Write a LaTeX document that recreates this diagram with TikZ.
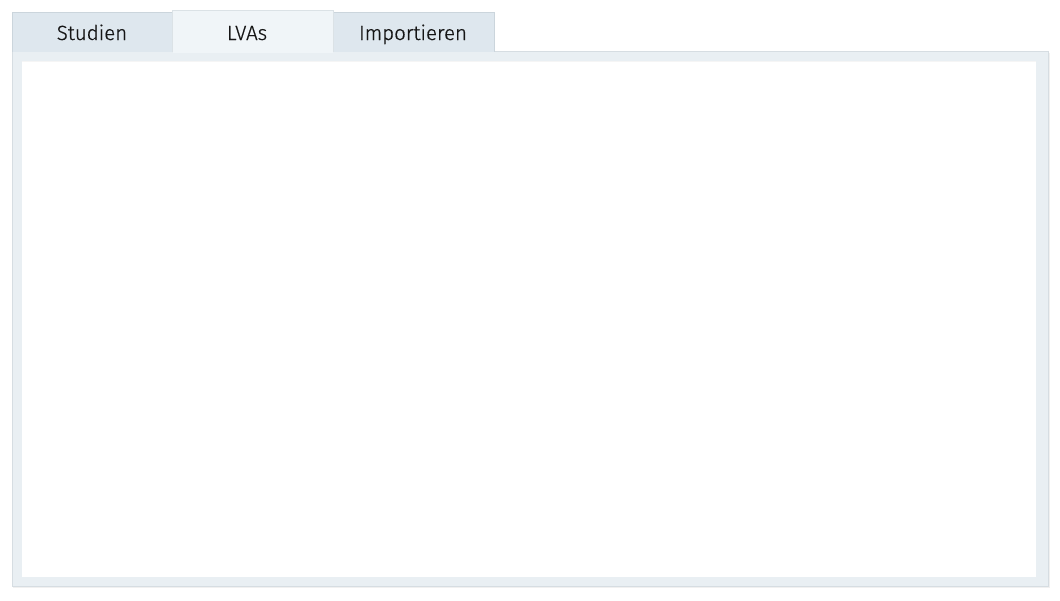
\documentclass[tikz,border=0pt]{standalone}
\usepackage{fontspec}
\setmainfont{Fira Sans}[UprightFont=* Light,Ligatures=NoCommon,UprightFeatures={FakeBold=0.6}]
\definecolor{tabbg}{HTML}{DEE7EE}
\definecolor{tabact}{HTML}{F0F5F8}
\definecolor{tabline}{HTML}{CBD5DC}
\definecolor{framebg}{HTML}{E9EFF3}
\definecolor{frameline}{HTML}{D6DDE2}
\definecolor{txt}{HTML}{151515}
\begin{document}
\begin{tikzpicture}[x=1pt,y=-1pt,
  tabbox/.style={draw=tabline,line width=0.8pt,fill=tabbg},
  tablabel/.style={font=\fontsize{20.5}{24}\selectfont,text=txt,inner sep=0pt,anchor=base}]
\useasboundingbox[fill=white] (0,0) rectangle (1060,600);
% panel
\path[fill=black!6] (13,53) rectangle (1050,588);
\draw[draw=frameline,line width=0.8pt,fill=framebg] (12,51) rectangle (1048,586);
\fill[white] (22,61) rectangle (1036,577);
\draw[draw=black!4,line width=0.8pt] (22,61) -- (1036,61);
% tabs
\draw[tabbox] (12,51.5) -- (12,12) -- (172.5,12) -- (172.5,51.5);
\draw[tabbox] (333,51.5) -- (333,12) -- (494,12) -- (494,51.5);
\draw[draw=tabline!70,line width=0.8pt,fill=tabact] (172.5,52) -- (172.5,10.5) -- (333,10.5) -- (333,52);
\fill[tabact] (173,50.5) rectangle (332.6,53);
\node[tablabel] (studien) at (92,40) {Studien};
\node[tablabel] (lvas) at (247,40) {LVAs};
\node[tablabel] (imp) at (413,40) {Importieren};
\end{tikzpicture}
\end{document}
